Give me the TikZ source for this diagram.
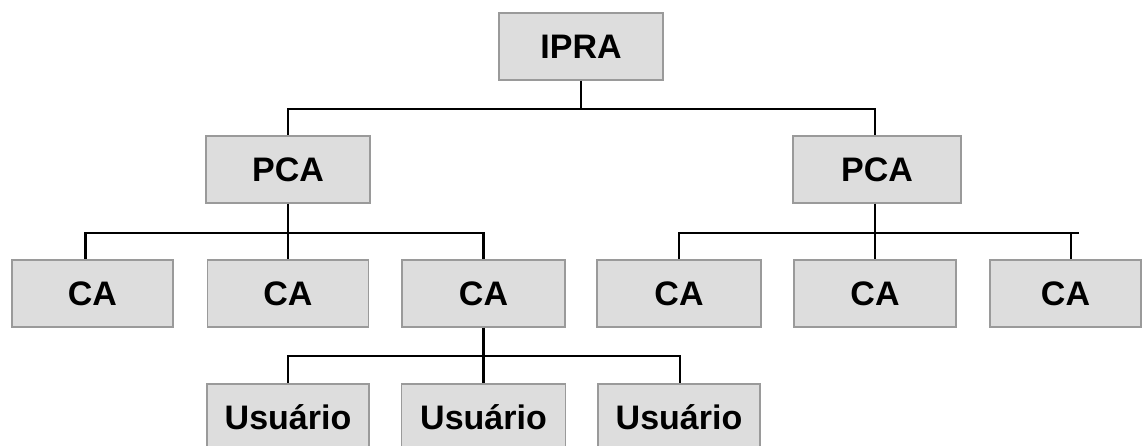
\documentclass[tikz,border=0pt]{standalone}
\usepackage{fontspec}
\setmainfont{Liberation Sans}
\definecolor{boxfill}{HTML}{DDDDDD}
\definecolor{boxedge}{HTML}{9A9A9A}
\begin{document}
\begin{tikzpicture}[x=1pt,y=-1pt,
  box/.style={draw=boxedge, fill=boxfill, line width=1.5pt, inner sep=0pt,
    minimum height=67pt, font=\fontsize{34}{36}\selectfont\bfseries},
  wire/.style={draw=black, line width=2.4pt}]
\useasboundingbox (0,0) rectangle (1142,445);
\clip (0,0) rectangle (1142,445);

% root
\node[box, minimum width=164pt] (ipra) at (581,46.5) {IPRA};

% policy certification authorities
\node[box, minimum width=164pt] (pcaL) at (288,169.5) {PCA};
\node[box, minimum width=168pt] (pcaR) at (877,169.5) {PCA};

% certification authorities
\node[box, minimum width=161pt] (ca1) at (92.5,293.5) {CA};
\node[box, minimum width=161pt] (ca2) at (288,293.5) {CA};
\node[box, minimum width=163pt] (ca3) at (483.5,293.5) {CA};
\node[box, minimum width=164pt] (ca4) at (679,293.5) {CA};
\node[box, minimum width=162pt] (ca5) at (875,293.5) {CA};
\node[box, minimum width=151pt] (ca6) at (1065.5,293.5) {CA};

% users
\node[box, minimum width=162pt] (u1) at (288,417.5) {Usuário};
\node[box, minimum width=164pt] (u2) at (483.5,417.5) {Usuário};
\node[box, minimum width=162pt] (u3) at (679,417.5) {Usuário};

% attachment point on the last CA, a little left of its centre
\coordinate (ca6top) at ([xshift=5.5pt]ca6.north);

% tree connectors
\draw[wire] (ipra.south) -- ++(0,28) -| (pcaL.north);
\draw[wire] (ipra.south) -- ++(0,28) -| ([xshift=-2pt]pcaR.north);

\draw[wire] (pcaL.south) -- ++(0,29) -| ([xshift=-7pt]ca1.north);
\draw[wire] (pcaL.south) -- (ca2.north);
\draw[wire] (pcaL.south) -- ++(0,29) -| (ca3.north);

\draw[wire] ([xshift=-2pt]pcaR.south) -- ++(0,29) -| (ca4.north);
\draw[wire] ([xshift=-2pt]pcaR.south) -- (ca5.north);
\draw[wire] ([xshift=-2pt]pcaR.south) -- ++(0,29) coordinate (busR) -| (ca6top);
\draw[wire] (busR -| ca6top) -- ++(8,0);

\draw[wire] (ca3.south) -- ++(0,28) -| (u1.north);
\draw[wire] (ca3.south) -- (u2.north);
\draw[wire] (ca3.south) -- ++(0,28) -| ([xshift=1pt]u3.north);
\end{tikzpicture}
\end{document}
